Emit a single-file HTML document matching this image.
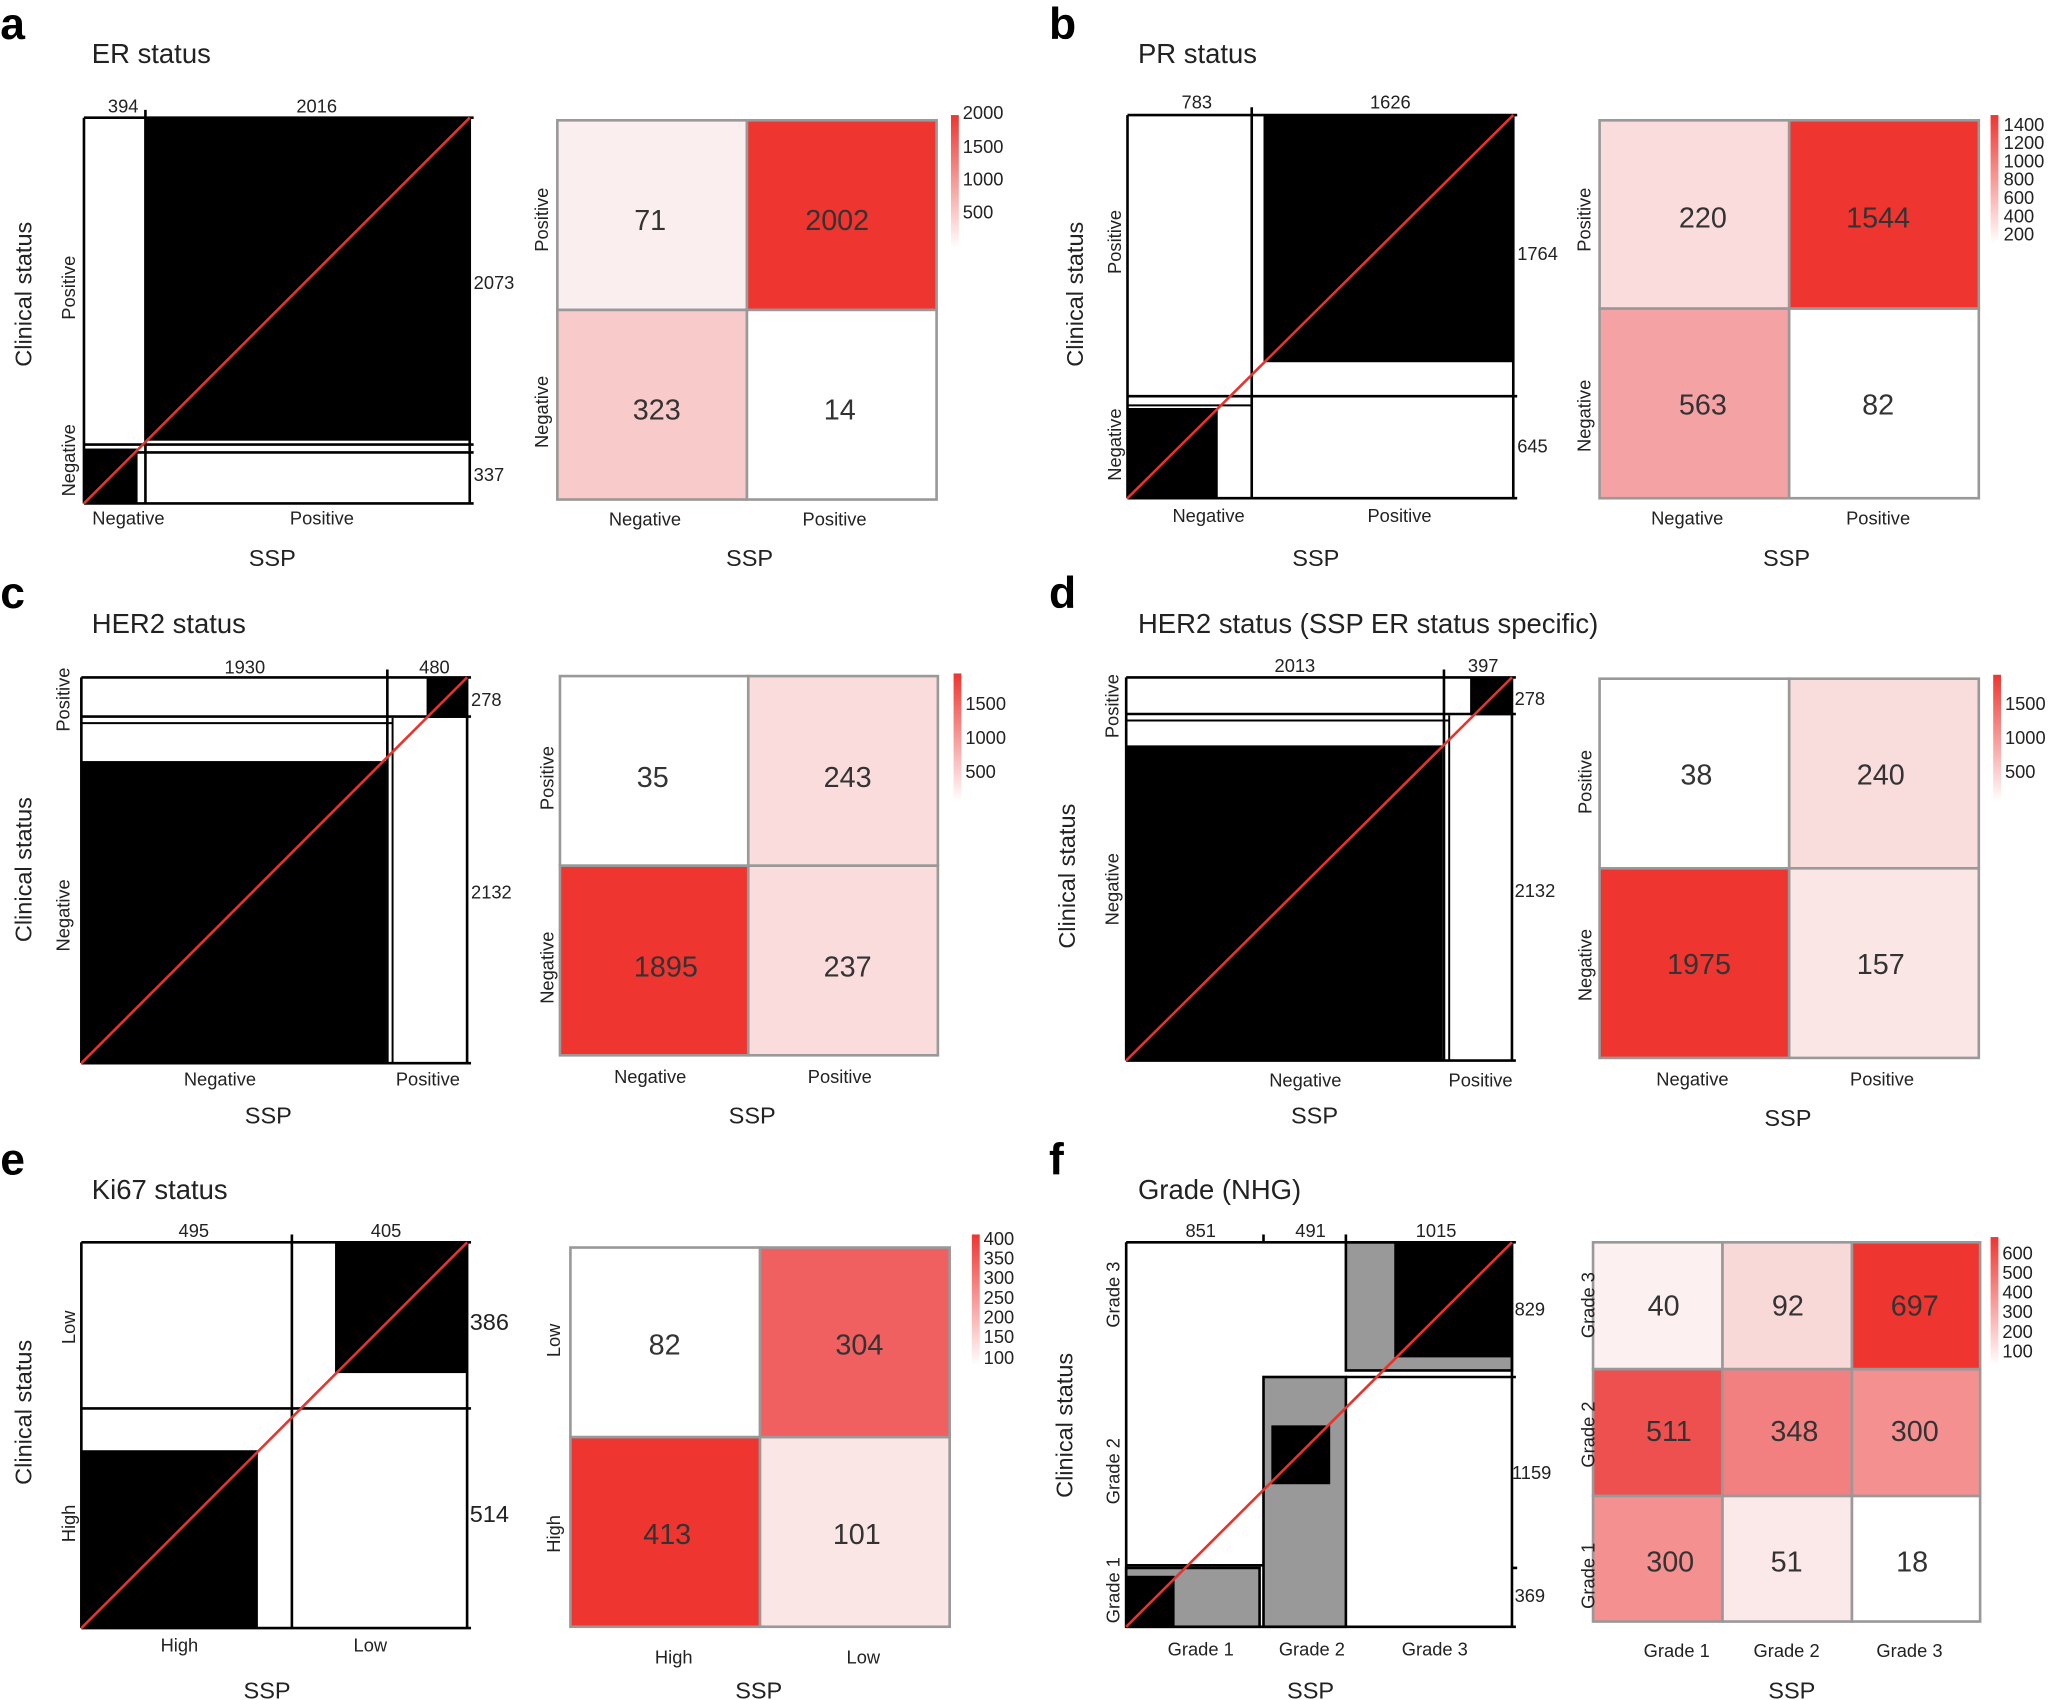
<!DOCTYPE html>
<html><head><meta charset="utf-8"><style>
html,body{margin:0;padding:0;background:#fff;}
svg{display:block;font-family:"Liberation Sans",Arial,sans-serif;}
</style></head><body>
<svg width="2051" height="1700" viewBox="0 0 1568 1300" xmlns="http://www.w3.org/2000/svg">
<defs>
<linearGradient id="cb" x1="0" y1="0" x2="0" y2="1"><stop offset="0" stop-color="#ee3530"/><stop offset="1" stop-color="#fff"/></linearGradient>
</defs>
<style>
.pl{font-size:34px;font-weight:bold;}
.tt{font-size:21px;fill:#222;}
.sm{font-size:14px;fill:#222;}
.ax{font-size:18px;fill:#222;}
.num{font-size:22px;fill:#333;text-anchor:middle;dominant-baseline:middle;}
.hm{stroke:#999;stroke-width:2;}
.bx{fill:none;stroke:#000;stroke-width:2;}
.dg{stroke:#e8322b;stroke-width:2;}
.cb{font-size:14px;fill:#222;}
</style>

<!-- ===== a ===== -->
<text x="0" y="30" class="pl">a</text>
<text x="70" y="48" class="tt">ER status</text>
<rect x="111" y="90" width="248" height="247" fill="#000"/>
<rect x="64" y="343" width="41" height="42" fill="#000"/>
<line x1="64" y1="90" x2="362" y2="90" stroke="#000" stroke-width="2"/>
<line x1="64" y1="385" x2="362" y2="385" stroke="#000" stroke-width="2"/>
<line x1="64" y1="90" x2="64" y2="385" stroke="#000" stroke-width="2"/>
<line x1="359" y1="90" x2="359" y2="385" stroke="#000" stroke-width="2"/>
<line x1="111" y1="84" x2="111" y2="385" stroke="#000" stroke-width="2"/>
<line x1="64" y1="340" x2="362" y2="340" stroke="#000" stroke-width="2"/>
<line x1="105" y1="346" x2="362" y2="346" stroke="#000" stroke-width="2"/>
<line x1="64" y1="385" x2="359" y2="90" class="dg"/>
<text x="94" y="86" class="sm" text-anchor="middle">394</text>
<text x="242" y="86" class="sm" text-anchor="middle">2016</text>
<text x="362" y="221" class="sm">2073</text>
<text x="362" y="368" class="sm">337</text>
<text x="98" y="401" class="sm" text-anchor="middle">Negative</text>
<text x="246" y="401" class="sm" text-anchor="middle">Positive</text>
<text x="208" y="433" class="ax" text-anchor="middle">SSP</text>
<text transform="translate(24,225) rotate(-90)" class="ax" text-anchor="middle">Clinical status</text>
<text transform="translate(57,220) rotate(-90)" class="sm" text-anchor="middle">Positive</text>
<text transform="translate(57,352) rotate(-90)" class="sm" text-anchor="middle">Negative</text>

<rect x="426" y="92" width="145" height="145" fill="#fbeeee" class="hm"/>
<rect x="571" y="92" width="145" height="145" fill="#ee3530" class="hm"/>
<rect x="426" y="237" width="145" height="145" fill="#f8caca" class="hm"/>
<rect x="571" y="237" width="145" height="145" fill="#fff" class="hm"/>
<text x="497" y="170" class="num">71</text><text x="640" y="170" class="num">2002</text>
<text x="502" y="315" class="num">323</text><text x="642" y="315" class="num">14</text>
<text transform="translate(419,168) rotate(-90)" class="sm" text-anchor="middle">Positive</text>
<text transform="translate(419,315) rotate(-90)" class="sm" text-anchor="middle">Negative</text>
<text x="493" y="402" class="sm" text-anchor="middle">Negative</text>
<text x="638" y="402" class="sm" text-anchor="middle">Positive</text>
<text x="573" y="433" class="ax" text-anchor="middle">SSP</text>
<rect x="727" y="88" width="6" height="102" fill="url(#cb)"/>
<text x="736" y="91" class="cb">2000</text><text x="736" y="117" class="cb">1500</text><text x="736" y="142" class="cb">1000</text><text x="736" y="167" class="cb">500</text>

<!-- ===== b ===== -->
<text x="802" y="30" class="pl">b</text>
<text x="870" y="48" class="tt">PR status</text>
<rect x="966" y="88" width="191" height="189" fill="#000"/>
<rect x="862" y="312" width="69" height="69" fill="#000"/>
<line x1="862" y1="88" x2="1160" y2="88" stroke="#000" stroke-width="2"/>
<line x1="862" y1="381" x2="1160" y2="381" stroke="#000" stroke-width="2"/>
<line x1="862" y1="88" x2="862" y2="381" stroke="#000" stroke-width="2"/>
<line x1="1157" y1="88" x2="1157" y2="381" stroke="#000" stroke-width="2"/>
<line x1="957" y1="82" x2="957" y2="381" stroke="#000" stroke-width="2"/>
<line x1="862" y1="303" x2="1160" y2="303" stroke="#000" stroke-width="2"/>
<line x1="862" y1="310" x2="957" y2="310" stroke="#000" stroke-width="1.5"/>
<line x1="862" y1="381" x2="1157" y2="88" class="dg"/>
<text x="915" y="83" class="sm" text-anchor="middle">783</text>
<text x="1063" y="83" class="sm" text-anchor="middle">1626</text>
<text x="1160" y="199" class="sm">1764</text>
<text x="1160" y="346" class="sm">645</text>
<text x="924" y="399" class="sm" text-anchor="middle">Negative</text>
<text x="1070" y="399" class="sm" text-anchor="middle">Positive</text>
<text x="1006" y="433" class="ax" text-anchor="middle">SSP</text>
<text transform="translate(828,225) rotate(-90)" class="ax" text-anchor="middle">Clinical status</text>
<text transform="translate(857,185) rotate(-90)" class="sm" text-anchor="middle">Positive</text>
<text transform="translate(857,340) rotate(-90)" class="sm" text-anchor="middle">Negative</text>

<rect x="1223" y="92" width="145" height="144" fill="#fbdcdc" class="hm"/>
<rect x="1368" y="92" width="145" height="144" fill="#ee3530" class="hm"/>
<rect x="1223" y="236" width="145" height="145" fill="#f4a2a4" class="hm"/>
<rect x="1368" y="236" width="145" height="145" fill="#fff" class="hm"/>
<text x="1302" y="168" class="num">220</text><text x="1436" y="168" class="num">1544</text>
<text x="1302" y="311" class="num">563</text><text x="1436" y="311" class="num">82</text>
<text transform="translate(1216,168) rotate(-90)" class="sm" text-anchor="middle">Positive</text>
<text transform="translate(1216,318) rotate(-90)" class="sm" text-anchor="middle">Negative</text>
<text x="1290" y="401" class="sm" text-anchor="middle">Negative</text>
<text x="1436" y="401" class="sm" text-anchor="middle">Positive</text>
<text x="1366" y="433" class="ax" text-anchor="middle">SSP</text>
<rect x="1522" y="88" width="6" height="98" fill="url(#cb)"/>
<text x="1532" y="100" class="cb">1400</text><text x="1532" y="114" class="cb">1200</text><text x="1532" y="128" class="cb">1000</text><text x="1532" y="142" class="cb">800</text><text x="1532" y="156" class="cb">600</text><text x="1532" y="170" class="cb">400</text><text x="1532" y="184" class="cb">200</text>

<!-- ===== c ===== -->
<text x="0" y="465" class="pl">c</text>
<text x="70" y="484" class="tt">HER2 status</text>
<rect x="326" y="518" width="31" height="31" fill="#000"/>
<rect x="62" y="582" width="233" height="231" fill="#000"/>
<line x1="62" y1="518" x2="360" y2="518" stroke="#000" stroke-width="2"/>
<line x1="62" y1="813" x2="360" y2="813" stroke="#000" stroke-width="2"/>
<line x1="62" y1="518" x2="62" y2="813" stroke="#000" stroke-width="2"/>
<line x1="357" y1="518" x2="357" y2="813" stroke="#000" stroke-width="2"/>
<line x1="296" y1="512" x2="296" y2="813" stroke="#000" stroke-width="2"/>
<line x1="300" y1="549" x2="300" y2="813" stroke="#000" stroke-width="1.5"/>
<line x1="62" y1="548" x2="360" y2="548" stroke="#000" stroke-width="2"/>
<line x1="62" y1="553" x2="300" y2="553" stroke="#000" stroke-width="1.5"/>
<line x1="62" y1="813" x2="357" y2="518" class="dg"/>
<text x="187" y="515" class="sm" text-anchor="middle">1930</text>
<text x="332" y="515" class="sm" text-anchor="middle">480</text>
<text x="360" y="540" class="sm">278</text>
<text x="360" y="687" class="sm">2132</text>
<text x="168" y="830" class="sm" text-anchor="middle">Negative</text>
<text x="327" y="830" class="sm" text-anchor="middle">Positive</text>
<text x="205" y="859" class="ax" text-anchor="middle">SSP</text>
<text transform="translate(24,665) rotate(-90)" class="ax" text-anchor="middle">Clinical status</text>
<text transform="translate(53,535) rotate(-90)" class="sm" text-anchor="middle">Positive</text>
<text transform="translate(53,700) rotate(-90)" class="sm" text-anchor="middle">Negative</text>

<rect x="428" y="517" width="144" height="145" fill="#fff" class="hm"/>
<rect x="572" y="517" width="145" height="145" fill="#fadcdc" class="hm"/>
<rect x="428" y="662" width="144" height="145" fill="#ee3530" class="hm"/>
<rect x="572" y="662" width="145" height="145" fill="#fadcdc" class="hm"/>
<text x="499" y="596" class="num">35</text><text x="648" y="596" class="num">243</text>
<text x="509" y="741" class="num">1895</text><text x="648" y="741" class="num">237</text>
<text transform="translate(423,595) rotate(-90)" class="sm" text-anchor="middle">Positive</text>
<text transform="translate(423,740) rotate(-90)" class="sm" text-anchor="middle">Negative</text>
<text x="497" y="828" class="sm" text-anchor="middle">Negative</text>
<text x="642" y="828" class="sm" text-anchor="middle">Positive</text>
<text x="575" y="859" class="ax" text-anchor="middle">SSP</text>
<rect x="729" y="515" width="6" height="98" fill="url(#cb)"/>
<text x="738" y="543" class="cb">1500</text><text x="738" y="569" class="cb">1000</text><text x="738" y="595" class="cb">500</text>

<!-- ===== d ===== -->
<text x="802" y="465" class="pl">d</text>
<text x="870" y="484" class="tt">HER2 status (SSP ER status specific)</text>
<rect x="1124" y="518" width="32" height="29" fill="#000"/>
<rect x="861" y="570" width="242" height="241" fill="#000"/>
<line x1="861" y1="518" x2="1159" y2="518" stroke="#000" stroke-width="2"/>
<line x1="861" y1="811" x2="1159" y2="811" stroke="#000" stroke-width="2"/>
<line x1="861" y1="518" x2="861" y2="811" stroke="#000" stroke-width="2"/>
<line x1="1156" y1="518" x2="1156" y2="811" stroke="#000" stroke-width="2"/>
<line x1="1104" y1="512" x2="1104" y2="811" stroke="#000" stroke-width="2"/>
<line x1="1108" y1="547" x2="1108" y2="811" stroke="#000" stroke-width="1.5"/>
<line x1="861" y1="546" x2="1159" y2="546" stroke="#000" stroke-width="2"/>
<line x1="861" y1="551" x2="1108" y2="551" stroke="#000" stroke-width="1.5"/>
<line x1="861" y1="811" x2="1156" y2="518" class="dg"/>
<text x="990" y="514" class="sm" text-anchor="middle">2013</text>
<text x="1134" y="514" class="sm" text-anchor="middle">397</text>
<text x="1158" y="539" class="sm">278</text>
<text x="1158" y="686" class="sm">2132</text>
<text x="998" y="831" class="sm" text-anchor="middle">Negative</text>
<text x="1132" y="831" class="sm" text-anchor="middle">Positive</text>
<text x="1005" y="859" class="ax" text-anchor="middle">SSP</text>
<text transform="translate(822,670) rotate(-90)" class="ax" text-anchor="middle">Clinical status</text>
<text transform="translate(855,540) rotate(-90)" class="sm" text-anchor="middle">Positive</text>
<text transform="translate(855,680) rotate(-90)" class="sm" text-anchor="middle">Negative</text>

<rect x="1223" y="519" width="145" height="145" fill="#fff" class="hm"/>
<rect x="1368" y="519" width="145" height="145" fill="#f9dcdc" class="hm"/>
<rect x="1223" y="664" width="145" height="145" fill="#ee3530" class="hm"/>
<rect x="1368" y="664" width="145" height="145" fill="#fbe6e6" class="hm"/>
<text x="1297" y="594" class="num">38</text><text x="1438" y="594" class="num">240</text>
<text x="1299" y="739" class="num">1975</text><text x="1438" y="739" class="num">157</text>
<text transform="translate(1217,598) rotate(-90)" class="sm" text-anchor="middle">Positive</text>
<text transform="translate(1217,738) rotate(-90)" class="sm" text-anchor="middle">Negative</text>
<text x="1294" y="830" class="sm" text-anchor="middle">Negative</text>
<text x="1439" y="830" class="sm" text-anchor="middle">Positive</text>
<text x="1367" y="861" class="ax" text-anchor="middle">SSP</text>
<rect x="1524" y="516" width="6" height="97" fill="url(#cb)"/>
<text x="1533" y="543" class="cb">1500</text><text x="1533" y="569" class="cb">1000</text><text x="1533" y="595" class="cb">500</text>

<!-- ===== e ===== -->
<text x="0" y="898" class="pl">e</text>
<text x="70" y="917" class="tt">Ki67 status</text>
<rect x="256" y="950" width="101" height="100" fill="#000"/>
<rect x="62" y="1109" width="135" height="136" fill="#000"/>
<line x1="62" y1="950" x2="360" y2="950" stroke="#000" stroke-width="2"/>
<line x1="62" y1="1245" x2="360" y2="1245" stroke="#000" stroke-width="2"/>
<line x1="62" y1="950" x2="62" y2="1245" stroke="#000" stroke-width="2"/>
<line x1="357" y1="950" x2="357" y2="1245" stroke="#000" stroke-width="2"/>
<line x1="223" y1="944" x2="223" y2="1245" stroke="#000" stroke-width="2"/>
<line x1="62" y1="1077" x2="360" y2="1077" stroke="#000" stroke-width="2"/>
<line x1="62" y1="1245" x2="357" y2="950" class="dg"/>
<text x="148" y="946" class="sm" text-anchor="middle">495</text>
<text x="295" y="946" class="sm" text-anchor="middle">405</text>
<text x="359" y="1017" class="ax">386</text>
<text x="359" y="1164" class="ax">514</text>
<text x="137" y="1263" class="sm" text-anchor="middle">High</text>
<text x="283" y="1263" class="sm" text-anchor="middle">Low</text>
<text x="204" y="1299" class="ax" text-anchor="middle">SSP</text>
<text transform="translate(24,1080) rotate(-90)" class="ax" text-anchor="middle">Clinical status</text>
<text transform="translate(57,1015) rotate(-90)" class="sm" text-anchor="middle">Low</text>
<text transform="translate(57,1165) rotate(-90)" class="sm" text-anchor="middle">High</text>

<rect x="436" y="954" width="145" height="145" fill="#fff" class="hm"/>
<rect x="581" y="954" width="145" height="145" fill="#f06060" class="hm"/>
<rect x="436" y="1099" width="145" height="145" fill="#ee3530" class="hm"/>
<rect x="581" y="1099" width="145" height="145" fill="#fbe6e6" class="hm"/>
<text x="508" y="1030" class="num">82</text><text x="657" y="1030" class="num">304</text>
<text x="510" y="1175" class="num">413</text><text x="655" y="1175" class="num">101</text>
<text transform="translate(428,1025) rotate(-90)" class="sm" text-anchor="middle">Low</text>
<text transform="translate(428,1173) rotate(-90)" class="sm" text-anchor="middle">High</text>
<text x="515" y="1272" class="sm" text-anchor="middle">High</text>
<text x="660" y="1272" class="sm" text-anchor="middle">Low</text>
<text x="580" y="1299" class="ax" text-anchor="middle">SSP</text>
<rect x="743" y="944" width="6" height="100" fill="url(#cb)"/>
<text x="752" y="952" class="cb">400</text><text x="752" y="967" class="cb">350</text><text x="752" y="982" class="cb">300</text><text x="752" y="997" class="cb">250</text><text x="752" y="1012" class="cb">200</text><text x="752" y="1027" class="cb">150</text><text x="752" y="1043" class="cb">100</text>

<!-- ===== f ===== -->
<text x="802" y="898" class="pl">f</text>
<text x="870" y="917" class="tt">Grade (NHG)</text>
<rect x="1029" y="950" width="127" height="98" fill="#999"/>
<rect x="1066" y="950" width="90" height="88" fill="#000"/>
<rect x="966" y="1053" width="63" height="191" fill="#999"/>
<rect x="972" y="1090" width="45" height="45" fill="#000"/>
<rect x="861" y="1199" width="102" height="45" fill="#999"/>
<rect x="861" y="1205" width="37" height="39" fill="#000"/>
<line x1="861" y1="950" x2="1159" y2="950" stroke="#000" stroke-width="2"/>
<line x1="861" y1="1244" x2="1159" y2="1244" stroke="#000" stroke-width="2"/>
<line x1="861" y1="950" x2="861" y2="1244" stroke="#000" stroke-width="2"/>
<line x1="1156" y1="950" x2="1156" y2="1244" stroke="#000" stroke-width="2"/>
<line x1="966" y1="944" x2="966" y2="950" stroke="#000" stroke-width="2"/>
<line x1="1029" y1="944" x2="1029" y2="950" stroke="#000" stroke-width="2"/>
<rect x="1029" y="950" width="127" height="98" class="bx"/>
<line x1="1029" y1="1053" x2="1159" y2="1053" stroke="#000" stroke-width="2"/>
<rect x="966" y="1053" width="63" height="191" class="bx"/>
<rect x="861" y="1199" width="102" height="45" class="bx"/>
<line x1="861" y1="1197" x2="966" y2="1197" stroke="#000" stroke-width="2"/>
<line x1="1156" y1="1199" x2="1160" y2="1199" stroke="#000" stroke-width="2"/>
<line x1="861" y1="1244" x2="1156" y2="950" class="dg"/>
<text x="918" y="946" class="sm" text-anchor="middle">851</text>
<text x="1002" y="946" class="sm" text-anchor="middle">491</text>
<text x="1098" y="946" class="sm" text-anchor="middle">1015</text>
<text x="1158" y="1006" class="sm">829</text>
<text x="1156" y="1131" class="sm">1159</text>
<text x="1158" y="1225" class="sm">369</text>
<text x="918" y="1266" class="sm" text-anchor="middle">Grade 1</text>
<text x="1003" y="1266" class="sm" text-anchor="middle">Grade 2</text>
<text x="1097" y="1266" class="sm" text-anchor="middle">Grade 3</text>
<text x="1002" y="1299" class="ax" text-anchor="middle">SSP</text>
<text transform="translate(820,1090) rotate(-90)" class="ax" text-anchor="middle">Clinical status</text>
<text transform="translate(856,990) rotate(-90)" class="sm" text-anchor="middle">Grade 3</text>
<text transform="translate(856,1125) rotate(-90)" class="sm" text-anchor="middle">Grade 2</text>
<text transform="translate(856,1216) rotate(-90)" class="sm" text-anchor="middle">Grade 1</text>

<rect x="1218" y="950" width="99" height="97" fill="#fdf0f0" class="hm"/>
<rect x="1317" y="950" width="99" height="97" fill="#f9d8d8" class="hm"/>
<rect x="1416" y="950" width="98" height="97" fill="#ee3530" class="hm"/>
<rect x="1218" y="1047" width="99" height="97" fill="#ee5050" class="hm"/>
<rect x="1317" y="1047" width="99" height="97" fill="#f28080" class="hm"/>
<rect x="1416" y="1047" width="98" height="97" fill="#f49090" class="hm"/>
<rect x="1218" y="1144" width="99" height="96" fill="#f49090" class="hm"/>
<rect x="1317" y="1144" width="99" height="96" fill="#fbe8e8" class="hm"/>
<rect x="1416" y="1144" width="98" height="96" fill="#fff" class="hm"/>
<text x="1272" y="1000" class="num">40</text><text x="1367" y="1000" class="num">92</text><text x="1464" y="1000" class="num">697</text>
<text x="1276" y="1096" class="num">511</text><text x="1372" y="1096" class="num">348</text><text x="1464" y="1096" class="num">300</text>
<text x="1277" y="1196" class="num">300</text><text x="1366" y="1196" class="num">51</text><text x="1462" y="1196" class="num">18</text>
<text transform="translate(1219,998) rotate(-90)" class="sm" text-anchor="middle">Grade 3</text>
<text transform="translate(1219,1097) rotate(-90)" class="sm" text-anchor="middle">Grade 2</text>
<text transform="translate(1219,1205) rotate(-90)" class="sm" text-anchor="middle">Grade 1</text>
<text x="1282" y="1267" class="sm" text-anchor="middle">Grade 1</text>
<text x="1366" y="1267" class="sm" text-anchor="middle">Grade 2</text>
<text x="1460" y="1267" class="sm" text-anchor="middle">Grade 3</text>
<text x="1370" y="1299" class="ax" text-anchor="middle">SSP</text>
<rect x="1522" y="946" width="6" height="98" fill="url(#cb)"/>
<text x="1531" y="963" class="cb">600</text><text x="1531" y="978" class="cb">500</text><text x="1531" y="993" class="cb">400</text><text x="1531" y="1008" class="cb">300</text><text x="1531" y="1023" class="cb">200</text><text x="1531" y="1038" class="cb">100</text>
</svg>
</body></html>
